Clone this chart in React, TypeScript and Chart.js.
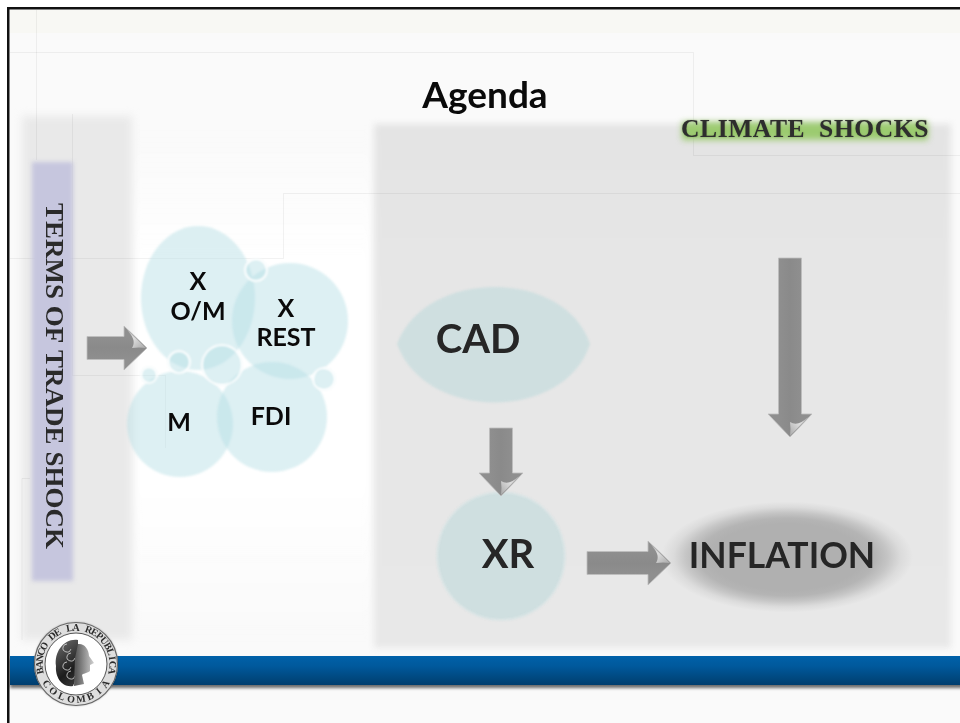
import React, { useEffect, useRef } from "react";
import { Chart, registerables } from "chart.js";

Chart.register(...registerables);

// Diagram values, in the coordinate system of the hidden axes
const bigBubbleX = [290, 180, 272, 501];
const bigBubbleY = [321, 424, 417, 556];
const bigBubbleR = [58, 53, 55, 64];
const smallBubbleX = [256, 179, 149, 222, 324];
const smallBubbleY = [270, 362, 375, 365, 379];
const smallBubbleR = [11, 11, 8, 20, 11];
const title = "Agenda";
const climateLabel = "CLIMATE  SHOCKS";
const tradeLabel = "TERMS OF TRADE SHOCK";
const bubbleLabels = ["X", "O/M", "X", "REST", "M", "FDI"];
const bubbleLabelX = [198, 198, 286, 286, 179, 271];
const bubbleLabelY = [282, 312, 309, 338, 423, 417];
const arrowsFromX = [87, 501, 790, 587];
const arrowsFromY = [348, 428, 258, 563];
const arrowsToX = [147, 501, 790, 671];
const arrowsToY = [348, 496, 437, 563];

const options: any = {
  animation: false,
  responsive: false,
  maintainAspectRatio: false,
  layout: { padding: 0, autoPadding: false },
  events: [],
  plugins: { legend: { display: false }, tooltip: { enabled: false }, title: { display: false } },
  scales: {
    x: { type: "linear", min: 0, max: 960, display: false },
    y: { type: "linear", min: 0, max: 723, reverse: true, display: false },
  },
};

const toPts = (xs: number[], ys: number[], rs: number[]) => xs.map((x, i) => ({ x, y: ys[i], r: rs[i] }));

function blurRect(c: CanvasRenderingContext2D, x: number, y: number, w: number, h: number, color: string | CanvasGradient, blur: number) {
  c.save();
  c.filter = `blur(${blur}px)`;
  c.fillStyle = color;
  c.fillRect(x, y, w, h);
  c.restore();
}

function polyline(c: CanvasRenderingContext2D, pts: number[][]) {
  c.beginPath();
  pts.forEach((p, i) => (i ? c.lineTo(p[0], p[1]) : c.moveTo(p[0], p[1])));
  c.stroke();
}

function arrow(c: CanvasRenderingContext2D, x0: number, y0: number, x1: number, y1: number) {
  const len = Math.hypot(x1 - x0, y1 - y0);
  const sw = 11.5, hw = 22, hl = 23;
  c.save();
  c.translate(x0, y0);
  c.rotate(Math.atan2(y1 - y0, x1 - x0));
  const g = c.createLinearGradient(0, -sw, 0, sw);
  g.addColorStop(0, "#8f8f8f");
  g.addColorStop(0.5, "#8a8a8a");
  g.addColorStop(1, "#8f8f8f");
  c.fillStyle = g;
  c.strokeStyle = "rgba(190,190,190,0.8)";
  c.lineWidth = 1;
  c.beginPath();
  c.moveTo(0, -sw);
  c.lineTo(len - hl, -sw);
  c.lineTo(len - hl, -hw);
  c.lineTo(len, 0);
  c.lineTo(len - hl, hw);
  c.lineTo(len - hl, sw);
  c.lineTo(0, sw);
  c.closePath();
  c.fill();
  c.stroke();
  // curled highlight on the tip
  const lg = c.createLinearGradient(len - 14, -8, len - 2, 6);
  lg.addColorStop(0, "#dcdcdc");
  lg.addColorStop(1, "#9a9a9a");
  c.fillStyle = lg;
  c.beginPath();
  c.moveTo(len - 1, 0);
  c.lineTo(len - hl + 3, -18);
  c.quadraticCurveTo(len - 10, -8, len - 15, 0);
  c.quadraticCurveTo(len - 8, -1, len - 1, 0);
  c.closePath();
  c.fill();
  c.restore();
}

function text(c: CanvasRenderingContext2D, s: string, x: number, y: number, font: string, color: string) {
  c.font = font;
  c.fillStyle = color;
  c.textAlign = "center";
  c.textBaseline = "middle";
  c.fillText(s, x, y);
}

function arcText(c: CanvasRenderingContext2D, s: string, cx: number, cy: number, r: number, mid: number, span: number, inward: boolean) {
  const n = s.length;
  c.save();
  c.font = "bold 10px 'Liberation Serif'";
  c.fillStyle = "#2c2c2c";
  c.textAlign = "center";
  c.textBaseline = "middle";
  for (let i = 0; i < n; i++) {
    const t = n > 1 ? i / (n - 1) - 0.5 : 0;
    const a = inward ? mid + t * span : mid - t * span;
    c.save();
    c.translate(cx + r * Math.cos(a), cy + r * Math.sin(a));
    c.rotate(inward ? a + Math.PI / 2 : a - Math.PI / 2);
    c.fillText(s[i], 0, 0);
    c.restore();
  }
  c.restore();
}

function seal(c: CanvasRenderingContext2D, cx: number, cy: number) {
  c.save();
  c.shadowColor = "rgba(0,0,0,0.3)";
  c.shadowBlur = 2;
  c.fillStyle = "#dedede";
  c.beginPath();
  c.arc(cx, cy, 42, 0, Math.PI * 2);
  c.fill();
  c.restore();
  c.strokeStyle = "#666";
  c.lineWidth = 1.2;
  c.beginPath();
  c.arc(cx, cy, 41.5, 0, Math.PI * 2);
  c.stroke();
  c.fillStyle = "#ffffff";
  c.beginPath();
  c.arc(cx, cy, 31, 0, Math.PI * 2);
  c.fill();
  c.strokeStyle = "#555";
  c.lineWidth = 1;
  c.stroke();
  arcText(c, "BANCO DE LA REPUBLICA", cx, cy, 36, -Math.PI / 2, Math.PI * 1.12, true);
  arcText(c, "COLOMBIA", cx, cy, 36, Math.PI / 2, Math.PI * 0.62, false);
  // head
  const hair = c.createLinearGradient(cx - 20, cy - 20, cx + 10, cy + 20);
  hair.addColorStop(0, "#666");
  hair.addColorStop(0.6, "#1c1c1c");
  hair.addColorStop(1, "#444");
  c.fillStyle = hair;
  c.beginPath();
  c.moveTo(cx + 2, cy - 24);
  c.bezierCurveTo(cx - 12, cy - 26, cx - 22, cy - 12, cx - 20, cy + 2);
  c.bezierCurveTo(cx - 21, cy + 13, cx - 14, cy + 24, cx - 3, cy + 22);
  c.lineTo(cx + 2, cy + 10);
  c.lineTo(cx + 2, cy - 8);
  c.closePath();
  c.fill();
  c.strokeStyle = "rgba(235,235,235,0.75)";
  c.lineWidth = 1;
  for (let k = 0; k < 4; k++) {
    const ky = cy - 16 + k * 9;
    c.beginPath();
    c.arc(cx - 9 + (k % 2) * 4, ky, 4, 0.3, Math.PI * 1.5);
    c.stroke();
  }
  const skin = c.createLinearGradient(cx, cy, cx + 18, cy);
  skin.addColorStop(0, "#5a5a5a");
  skin.addColorStop(1, "#d0d0d0");
  c.fillStyle = skin;
  c.beginPath();
  c.moveTo(cx + 2, cy - 20);
  c.bezierCurveTo(cx + 8, cy - 21, cx + 13, cy - 15, cx + 13, cy - 8);
  c.lineTo(cx + 18, cy - 1);
  c.lineTo(cx + 14, cy + 1);
  c.lineTo(cx + 14, cy + 7);
  c.bezierCurveTo(cx + 10, cy + 10, cx + 7, cy + 9, cx + 6, cy + 11);
  c.lineTo(cx + 8, cy + 20);
  c.lineTo(cx - 2, cy + 22);
  c.lineTo(cx - 1, cy - 6);
  c.closePath();
  c.fill();
}

const backdrop = {
  id: "backdrop",
  beforeDatasetsDraw(chart: any) {
    const c: CanvasRenderingContext2D = chart.ctx;
    c.save();
    c.fillStyle = "#fafafa";
    c.fillRect(0, 0, 960, 723);
    c.fillStyle = "#ffffff";
    c.fillRect(0, 0, 960, 8);
    c.fillRect(0, 0, 8, 723);
    blurRect(c, 10, 10, 950, 23, "#f8f8f4", 0.5);

    // soft white glow behind the bubbles
    const wg = c.createLinearGradient(0, 130, 0, 640);
    wg.addColorStop(0, "rgba(255,255,255,0)");
    wg.addColorStop(0.25, "rgba(255,255,255,0.9)");
    wg.addColorStop(0.7, "rgba(255,255,255,0.9)");
    wg.addColorStop(1, "rgba(255,255,255,0)");
    blurRect(c, 132, 130, 240, 510, wg, 4);

    blurRect(c, 22, 116, 110, 524, "#e9e9e9", 4);
    const mg = c.createLinearGradient(0, 122, 0, 650);
    mg.addColorStop(0, "#e4e4e4");
    mg.addColorStop(0.4, "#e7e7e7");
    mg.addColorStop(1, "#e8e8e8");
    blurRect(c, 374, 124, 577, 524, mg, 3);

    c.strokeStyle = "rgba(0,0,0,0.05)";
    c.lineWidth = 1;
    polyline(c, [[10, 52.5], [693.5, 52.5], [693.5, 155.5], [960, 155.5]]);
    polyline(c, [[10, 258.5], [283.5, 258.5], [283.5, 193.5], [960, 193.5]]);
    polyline(c, [[36.5, 10], [36.5, 160]]);
    polyline(c, [[72.5, 114], [72.5, 375.5], [165.5, 375.5], [165.5, 448]]);
    polyline(c, [[22, 640], [22, 478.5], [30, 478.5]]);

    blurRect(c, 32, 162, 41, 419, "#c6c6de", 2);

    // Inflation glow
    c.save();
    c.translate(787, 557);
    c.scale(1, 0.44);
    const ig = c.createRadialGradient(0, 0, 0, 0, 0, 126);
    ig.addColorStop(0, "rgba(176,176,176,1)");
    ig.addColorStop(0.6, "rgba(176,176,176,1)");
    ig.addColorStop(0.7, "rgba(176,176,176,0.92)");
    ig.addColorStop(0.8, "rgba(176,176,176,0.62)");
    ig.addColorStop(0.9, "rgba(176,176,176,0.22)");
    ig.addColorStop(1, "rgba(176,176,176,0)");
    c.fillStyle = ig;
    c.beginPath();
    c.arc(0, 0, 126, 0, Math.PI * 2);
    c.fill();
    c.restore();

    // footer bar
    c.save();
    c.shadowColor = "rgba(60,60,60,0.75)";
    c.shadowBlur = 3;
    c.shadowOffsetY = 3;
    const g = c.createLinearGradient(0, 656, 0, 685);
    g.addColorStop(0, "#0061a9");
    g.addColorStop(0.35, "#00599c");
    g.addColorStop(1, "#003e6e");
    c.fillStyle = g;
    c.fillRect(10, 656, 960, 29);
    c.restore();

    // Ellipses
    c.save();
    c.filter = "blur(1px)";
    c.fillStyle = "rgba(180,222,228,0.45)";
    c.beginPath();
    c.ellipse(198, 298, 57, 72, 0, 0, Math.PI * 2);
    c.fill();
    c.restore();

    // CAD lens
    c.save();
    c.filter = "blur(1px)";
    c.fillStyle = "#cfdfe0";
    c.beginPath();
    c.moveTo(397, 344);
    c.bezierCurveTo(425, 268, 565, 268, 590, 344);
    c.bezierCurveTo(565, 422, 425, 422, 397, 344);
    c.fill();
    c.restore();

    // climate label glow
    blurRect(c, 682, 122, 246, 18, "#9ccb70", 3);
    c.restore();
  },
  beforeDatasetDraw(chart: any) {
    chart.ctx.filter = "blur(0.8px)";
  },
  afterDatasetDraw(chart: any) {
    chart.ctx.filter = "none";
  },
  afterDatasetsDraw(chart: any) {
    const c: CanvasRenderingContext2D = chart.ctx;
    const sx = chart.scales.x, sy = chart.scales.y;
    c.save();
    c.filter = "none";
    // slide frame
    c.fillStyle = "#111";
    c.fillRect(7, 7, 953, 2.5);
    c.fillRect(7, 7, 2.5, 716);

    arrowsFromX.forEach((x, i) =>
      arrow(c, sx.getPixelForValue(x), sy.getPixelForValue(arrowsFromY[i]), sx.getPixelForValue(arrowsToX[i]), sy.getPixelForValue(arrowsToY[i]))
    );

    text(c, title, 485, 96, "bold 37px Lato", "#0a0a0a");
    bubbleLabels.forEach((s, i) =>
      text(c, s, sx.getPixelForValue(bubbleLabelX[i]), sy.getPixelForValue(bubbleLabelY[i]), "bold 25px Lato", "#0a0a0a")
    );
    text(c, "CAD", 478, 340, "bold 40px Lato", "#262626");
    text(c, "XR", 508, 555, "bold 40px Lato", "#262626");
    text(c, "INFLATION", 782, 557, "bold 35.5px Lato", "#262626");

    c.save();
    c.shadowColor = "rgba(60,90,30,0.5)";
    c.shadowBlur = 1.5;
    (c as any).letterSpacing = "0.6px";
    text(c, climateLabel, 805, 130, "bold 25.5px 'Liberation Serif'", "#2e2e2e");
    c.restore();

    c.save();
    c.translate(52, 376);
    c.rotate(Math.PI / 2);
    c.scale(1, 0.9);
    text(c, tradeLabel, 0, 0, "bold 27px 'Liberation Serif'", "#2a2a2a");
    c.restore();

    seal(c, 76, 664);
    c.restore();
  },
};

export default function App() {
  const ref = useRef<HTMLCanvasElement | null>(null);
  useEffect(() => {
    if (!ref.current) return;
    const chart = new Chart(ref.current, {
      type: "bubble",
      data: {
        datasets: [
          {
            label: "Small bubbles",
            data: toPts(smallBubbleX, smallBubbleY, smallBubbleR),
            backgroundColor: "rgba(180,222,228,0.45)",
            borderColor: "#ffffff",
            borderWidth: 2,
            clip: false,
            order: 1,
          },
          {
            label: "Large bubbles",
            data: toPts(bigBubbleX, bigBubbleY, bigBubbleR),
            backgroundColor: ["rgba(180,222,228,0.45)", "rgba(180,222,228,0.45)", "rgba(180,222,228,0.45)", "#cfdfe0"],
            borderColor: ["rgba(0,0,0,0)", "rgba(0,0,0,0)", "rgba(0,0,0,0)", "#dfe9ea"],
            borderWidth: 1,
            clip: false,
            order: 2,
          },
        ],
      },
      options,
      plugins: [backdrop],
    } as any);
    return () => chart.destroy();
  }, []);
  return (
    <div style={{ position: "fixed", left: 0, top: 0, width: 960, height: 723, background: "#fff" }}>
      <canvas ref={ref} width={960} height={723} style={{ display: "block" }} />
    </div>
  );
}
